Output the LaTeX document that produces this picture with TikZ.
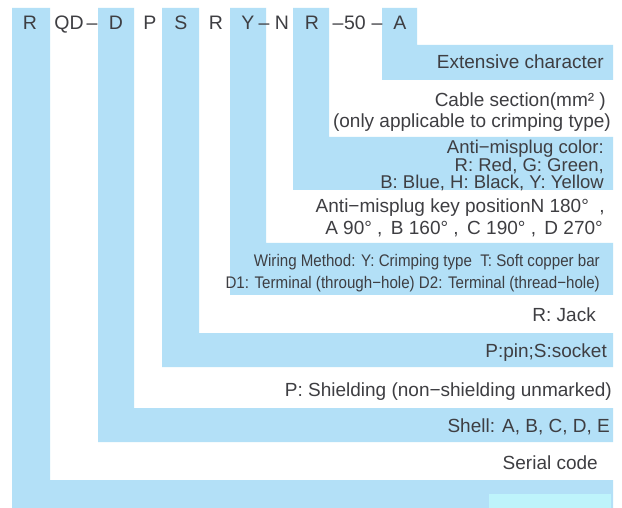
\documentclass[tikz,border=0pt]{standalone}
\usepackage{fontspec}
\setmainfont{Liberation Sans}
\newfontfamily\narrowfont[FakeStretch=0.9]{Liberation Sans}
\definecolor{band}{RGB}{179,224,247}
\definecolor{pale}{RGB}{190,244,251}
\definecolor{ink}{RGB}{62,62,66}
\tikzset{
  code/.style={anchor=base, inner sep=0pt, text=ink, font=\fontsize{19.5}{22}\selectfont},
  note/.style={anchor=base east, inner sep=0pt, text=ink, font=\fontsize{19}{21}\selectfont},
  fine/.style={note, font=\narrowfont\fontsize{16.8}{19}\selectfont},
}
\begin{document}
\begin{tikzpicture}[x=1pt,y=-1pt]
    \useasboundingbox (0,0) rectangle (622,508);
    \fill[white] (0,0) rectangle (622,508);
    % stripes: left, right, band top, band bottom
    \foreach \xa/\xb/\ya/\yb in {12/50/480/508,98/134/408/442,162/199/333/367,
                                 230/266/243/295,293/329/137/190,382/417/45/80}
      \fill[band] (\xa,8) -- (\xb,8) -- (\xb,\ya) -- (613,\ya) -- (613,\yb) -- (\xa,\yb) -- cycle;
    \fill[pale] (489,494) rectangle (611,508);
    \foreach \x/\txt [count=\i] in {30/R,69/QD,92/–,116/D,150/P,181/S,216/R,248/Y,
                                   264/–,282/N,312/R,338/–,355/50,377/–,400/A}
      \node[code] (c\i) at (\x,30) {\txt};
    \node[note] (ext) at (604,69) {Extensive character};
    \node[note] (cab1) at (606,107) {Cable section(mm² )};
    \node[note] (cab2) at (611,128) {(only applicable to crimping type)};
    \node[note, anchor=south east, align=right, font=\fontsize{18.5}{17}\selectfont]
      (col) at (604,191) {Anti−misplug color:\\R: Red, G: Green,\\B: Blue, H: Black, Y: Yellow};
    \node[note] (key1) at (605,213) {Anti−misplug key positionN 180°~~,};
    \node[note] (key2) at (603,235) {A 90°~,~\,B 160°~,~\,C 190°~,~\,D 270°};
    \node[fine] (wir1) at (600,267) {Wiring Method: Y: Crimping type~~T: Soft copper bar};
    \node[fine] (wir2) at (600,289) {D1: Terminal (through−hole) D2: Terminal (thread−hole)};
    \node[note] (jack) at (596,321) {R: Jack};
    \node[note] (pin) at (607,357) {P:pin;S:socket};
    \node[note] (shld) at (612,396) {P: Shielding (non−shielding unmarked)};
    \node[note] (shell) at (610,432) {Shell: A, B, C, D, E};
    \node[note] (serial) at (598,469) {Serial code};
\end{tikzpicture}
\end{document}
